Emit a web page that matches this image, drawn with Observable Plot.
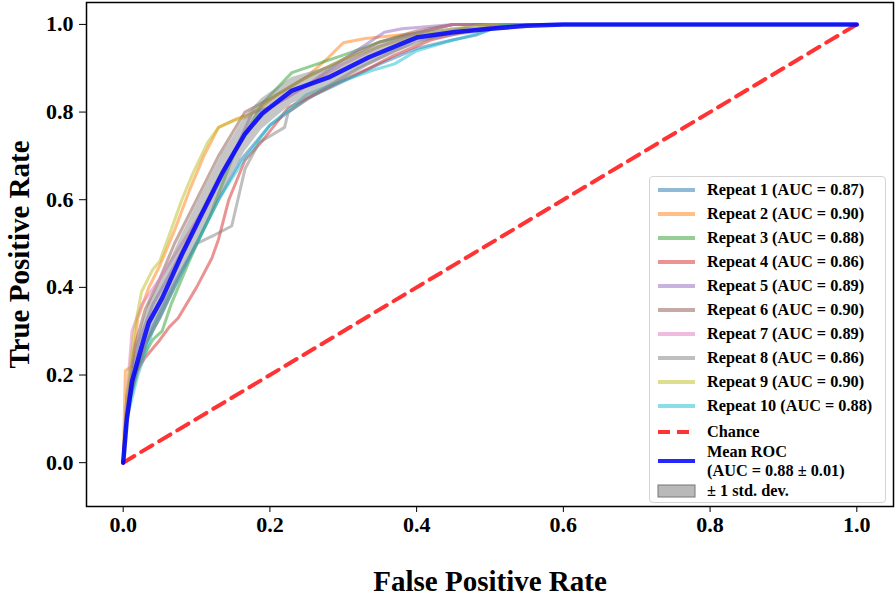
<!DOCTYPE html>
<html><head><meta charset="utf-8">
<script src="https://cdn.jsdelivr.net/npm/d3@7"></script>
<script src="https://cdn.jsdelivr.net/npm/@observablehq/plot@0.6"></script>
<style>
body{margin:0;background:#fff;}
#wrap{position:relative;width:896px;height:597px;font-family:"Liberation Serif","Times New Roman",serif;font-weight:bold;color:#000;}
#wrap svg text{font-family:"Liberation Serif","Times New Roman",serif;font-weight:bold;}
g[aria-label="x-axis tick label"], g[aria-label="y-axis tick label"]{font-size:22px;}
g[aria-label="x-axis label"], g[aria-label="y-axis label"]{font-size:29px;}
#legend{position:absolute;left:649px;top:176px;width:237px;height:327px;border:1px solid #d4d4d4;border-radius:4px;background:rgba(255,255,255,0.85);box-sizing:border-box;}
.row{position:absolute;left:0;height:0;}
.row svg{position:absolute;left:7px;top:-6px;}
.row span{position:absolute;left:57px;top:0;transform:translateY(-50%);white-space:nowrap;font-size:16.3px;line-height:18px;}
.row span.two{line-height:19px;}
</style></head>
<body><div id="wrap"></div>
<script>
// ---- data ----
const xTicks = [0, 0.2, 0.4, 0.6, 0.8, 1.0];
const yTicks = [0, 0.2, 0.4, 0.6, 0.8, 1.0];
const repeatNames = ["Repeat 1","Repeat 2","Repeat 3","Repeat 4","Repeat 5","Repeat 6","Repeat 7","Repeat 8","Repeat 9","Repeat 10"];
const repeatAuc = [0.87, 0.90, 0.88, 0.86, 0.89, 0.90, 0.89, 0.86, 0.90, 0.88];
const repeatColors = ["#1f77b4","#ff7f0e","#2ca02c","#d62728","#9467bd","#8c564b","#e377c2","#7f7f7f","#bcbd22","#17becf"];
const repeatFpr = [
  [0,0.005,0.02,0.04,0.07,0.1,0.13,0.16,0.2,0.25,0.3,0.35,0.4,0.45,0.48,0.52,1],
  [0,0.003,0.012,0.02,0.035,0.05,0.07,0.09,0.11,0.13,0.155,0.18,0.21,0.25,0.28,0.3,0.33,0.4,0.45,1],
  [0,0.005,0.02,0.04,0.053,0.065,0.09,0.12,0.15,0.19,0.23,0.3,0.35,0.4,0.45,1],
  [0,0.005,0.015,0.03,0.05,0.063,0.075,0.1,0.121,0.13,0.144,0.166,0.19,0.225,0.29,0.335,0.37,0.42,0.47,0.52,1],
  [0,0.005,0.02,0.04,0.07,0.1,0.13,0.155,0.176,0.2,0.25,0.3,0.356,0.38,0.45,1],
  [0,0.005,0.015,0.03,0.05,0.07,0.1,0.13,0.166,0.2,0.25,0.3,0.35,0.4,0.45,1],
  [0,0.005,0.012,0.025,0.05,0.08,0.11,0.14,0.17,0.2,0.25,0.3,0.35,0.4,0.45,1],
  [0,0.005,0.015,0.03,0.05,0.07,0.1,0.125,0.148,0.166,0.185,0.22,0.225,0.27,0.32,0.37,0.42,0.48,1],
  [0,0.005,0.015,0.025,0.04,0.05,0.065,0.08,0.095,0.115,0.13,0.15,0.17,0.2,0.24,0.3,0.35,0.4,0.45,0.5,1],
  [0,0.005,0.02,0.04,0.07,0.1,0.13,0.16,0.2,0.25,0.3,0.34,0.37,0.4,0.44,0.475,0.52,1]
];
const repeatTpr = [
  [0,0.11,0.22,0.31,0.41,0.5,0.6,0.69,0.77,0.83,0.87,0.91,0.945,0.965,0.975,1,1],
  [0,0.21,0.22,0.33,0.4,0.45,0.53,0.62,0.7,0.765,0.785,0.8,0.84,0.88,0.925,0.958,0.968,0.98,1,1],
  [0,0.12,0.22,0.28,0.30,0.36,0.46,0.57,0.7,0.82,0.89,0.93,0.96,0.98,1,1],
  [0,0.12,0.2,0.24,0.28,0.31,0.33,0.4,0.467,0.51,0.6,0.69,0.735,0.81,0.865,0.9,0.93,0.965,0.985,1,1],
  [0,0.13,0.27,0.36,0.45,0.55,0.65,0.72,0.80,0.81,0.86,0.92,0.982,0.99,1,1],
  [0,0.15,0.26,0.35,0.42,0.5,0.6,0.7,0.8,0.83,0.88,0.92,0.96,0.985,1,1],
  [0,0.15,0.3,0.36,0.42,0.5,0.58,0.68,0.76,0.81,0.86,0.91,0.95,0.98,1,1],
  [0,0.1,0.2,0.27,0.33,0.4,0.5,0.52,0.54,0.67,0.73,0.765,0.8,0.85,0.9,0.94,0.97,1,1],
  [0,0.15,0.3,0.39,0.44,0.46,0.53,0.6,0.66,0.73,0.765,0.78,0.79,0.83,0.87,0.92,0.95,0.975,0.99,1,1],
  [0,0.1,0.2,0.3,0.4,0.5,0.6,0.68,0.77,0.84,0.872,0.895,0.91,0.94,0.96,0.975,1,1]
];
const meanFpr = [0,0.005,0.012,0.026,0.035,0.053,0.08,0.107,0.135,0.152,0.166,0.189,0.23,0.28,0.335,0.38,0.40,0.45,0.5,0.55,0.6,1.0];
const meanTpr = [0,0.1,0.185,0.27,0.32,0.375,0.475,0.567,0.66,0.71,0.75,0.796,0.849,0.879,0.925,0.956,0.97,0.982,0.99,0.997,1.0,1.0];
const stdTpr  = [0,0.04,0.04,0.045,0.045,0.045,0.045,0.045,0.045,0.04,0.04,0.035,0.03,0.025,0.02,0.015,0.012,0.01,0.006,0.003,0,0];
const meanAuc = 0.88, stdAuc = 0.01;
const chance = [{fpr:0,tpr:0},{fpr:1,tpr:1}];

// ---- build tables ----
const repeatRows = repeatFpr.map((xs, i) => xs.map((x, j) => ({fpr: x, tpr: repeatTpr[i][j], repeat: i})));
const meanRows = meanFpr.map((x, j) => ({fpr: x, tpr: meanTpr[j], lo: Math.max(meanTpr[j] - stdTpr[j], 0), hi: Math.min(meanTpr[j] + stdTpr[j], 1)}));

const chart = Plot.plot({
  width: 896, height: 597,
  marginLeft: 86, marginRight: 3, marginTop: 2, marginBottom: 91,
  style: {fontFamily: "Liberation Serif, serif", fontWeight: "bold", background: "#fff", color: "#000"},
  x: {domain: [-0.05, 1.05], ticks: xTicks, tickFormat: ".1f", label: "False Positive Rate", labelAnchor: "center", labelArrow: "none", tickSize: 6, tickPadding: 4, labelOffset: 84},
  y: {domain: [-0.1, 1.05], ticks: yTicks, tickFormat: ".1f", label: "True Positive Rate", labelAnchor: "center", labelArrow: "none", tickSize: 7, tickPadding: 6, labelOffset: 78},
  marks: [
    ...repeatRows.map((rows, i) => Plot.line(rows, {x: "fpr", y: "tpr", stroke: repeatColors[i], strokeOpacity: 0.5, strokeWidth: 3})),
    Plot.areaY(meanRows, {x: "fpr", y1: "lo", y2: "hi", fill: "grey", fillOpacity: 0.45}),
    Plot.line(chance, {x: "fpr", y: "tpr", stroke: "red", strokeOpacity: 0.8, strokeWidth: 4, strokeDasharray: "13,8"}),
    Plot.line(meanRows, {x: "fpr", y: "tpr", stroke: "#0000ff", strokeOpacity: 0.85, strokeWidth: 4.5}),
    Plot.frame({stroke: "#000", strokeWidth: 1.5})
  ]
});
const wrap = document.getElementById("wrap");
wrap.appendChild(chart);

// ---- legend (HTML overlay inside the axes) ----
const legend = document.createElement("div");
legend.id = "legend";
function addRow(top, swatch, html, cls) {
  const r = document.createElement("div");
  r.className = "row";
  r.style.top = top + "px";
  r.innerHTML = swatch + `<span class="${cls || ""}">${html}</span>`;
  legend.appendChild(r);
}
const lineSw = (c, o, dash) => `<svg width="40" height="12"><line x1="1" x2="38" y1="6" y2="6" stroke="${c}" stroke-opacity="${o}" stroke-width="4" ${dash ? 'stroke-dasharray="12,7"' : ''}/></svg>`;
repeatNames.forEach((n, i) => addRow(13 + i * 24, lineSw(repeatColors[i], 0.5), `${n} (AUC = ${repeatAuc[i].toFixed(2)})`));
addRow(255, lineSw("red", 0.8, true), "Chance");
addRow(284, lineSw("#0000ff", 0.85), `Mean ROC<br>(AUC = ${meanAuc.toFixed(2)} ± ${stdAuc.toFixed(2)})`, "two");
addRow(314, `<svg width="40" height="14" style="top:-7px"><rect x="1" y="1" width="37" height="12" fill="grey" fill-opacity="0.55" stroke="#777" stroke-width="1"/></svg>`, "± 1 std. dev.");
wrap.appendChild(legend);
</script></body></html>
